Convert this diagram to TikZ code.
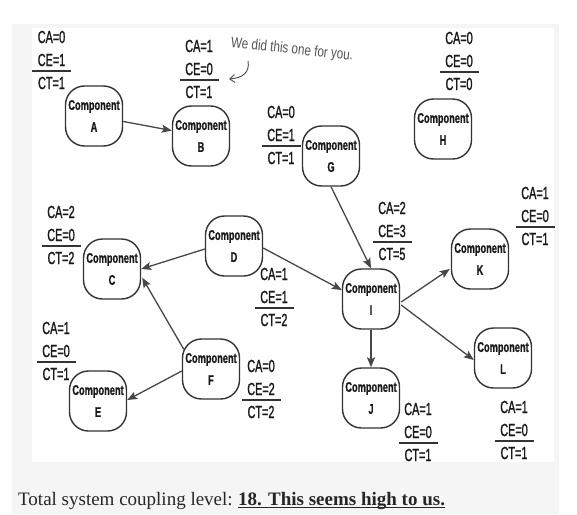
\documentclass[tikz,border=0pt]{standalone}
\usepackage{fontspec}
\setmainfont{Liberation Serif}
\newfontfamily\labfont[FakeStretch=0.62,FakeBold=1.2]{Liberation Sans}
\newfontfamily\compfont[FakeStretch=0.66,FakeBold=0.8]{Liberation Sans}
\newfontfamily\handfont[FakeStretch=0.78]{Liberation Sans}
\usetikzlibrary{arrows.meta,calc}
\definecolor{ink}{HTML}{333333}
\definecolor{panel}{HTML}{F5F5F5}
\definecolor{note}{HTML}{555555}
\tikzset{
  comp/.style={draw=ink, line width=1.4pt, rounded corners=19pt, minimum width=57pt,
    minimum height=60pt, inner sep=1pt, align=center, text=black!90,
    font=\compfont\bfseries\fontsize{14}{22}\selectfont},
  lab/.style={inner sep=0pt, text=black!90, font=\labfont\fontsize{17.5}{18}\selectfont},
  rulebox/.style={fill=ink, draw=none, minimum width=39pt, minimum height=1.6pt, inner sep=0pt},
  link/.style={draw=ink!90, line width=1.3pt, -{Stealth[length=10pt,width=8pt,inset=2pt]}},
}
\newcommand\metric[5]{%
  \coordinate (#1) at #2;
  \node[rulebox] (#1-rule) at (#1) {};
  \node[lab] (#1-ca) at ($(#1)+(0,-34)$) {CA=#3};
  \node[lab] (#1-ce) at ($(#1)+(0,-11)$) {CE=#4};
  \node[lab] (#1-ct) at ($(#1)+(0,12)$) {CT=#5};
}
\begin{document}
\begin{tikzpicture}[x=1pt,y=-1pt]
  \useasboundingbox (0,0) rectangle (577,514);
  \fill[white] (0,0) rectangle (577,514);
  \fill[panel] (12,24) rectangle (559,514);
  \fill[white] (32,28) rectangle (554,462);

  % components
  \node[comp] (A) at (94,116) {Component\\A};
  \node[comp] (B) at (201,136) {Component\\B};
  \node[comp] (G) at (331,156) {Component\\G};
  \node[comp] (H) at (443,129) {Component\\H};
  \node[comp] (C) at (112,269) {Component\\C};
  \node[comp] (D) at (234,246) {Component\\D};
  \node[comp] (I) at (371,299) {Component\\I};
  \node[comp] (K) at (480,259) {Component\\K};
  \node[comp] (L) at (503,358) {Component\\L};
  \node[comp] (J) at (371,398) {Component\\J};
  \node[comp] (F) at (211,369) {Component\\F};
  \node[comp] (E) at (98,401) {Component\\E};

  % connectors
  \draw[link] (A) -- (B);
  \draw[link] (G.south) -- (I.north);
  \draw[link] ($(D.west)+(0,3)$) -- (C.east);
  \draw[link] ($(D.east)+(0,2)$) -- ($(I.west)+(0,-9)$);
  \draw[link] ($(F.north west)+(2,11)$) -- ($(C.south east)+(1,-22)$);
  \draw[link] ($(F.west)+(0,2)$) -- ($(E.east)+(0,-1)$);
  \draw[link] ($(I.east)+(1,3)$) -- ($(K.west)+(-1,10)$);
  \draw[link] ($(I.east)+(1,6)$) -- ($(L.west)+(0,2)$);
  \draw[link] (I.south) -- (J.north);

  % metrics
  \metric{mA}{(51.5,71)}{0}{1}{1}
  \metric{mB}{(199,80)}{1}{0}{1}
  \metric{mG}{(281,146)}{0}{1}{1}
  \metric{mH}{(459,72)}{0}{0}{0}
  \metric{mC}{(61,246)}{2}{0}{2}
  \metric{mD}{(274,308)}{1}{1}{2}
  \metric{mI}{(392,242)}{2}{3}{5}
  \metric{mK}{(535,227)}{1}{0}{1}
  \metric{mE}{(56,362)}{1}{0}{1}
  \metric{mF}{(261,400)}{0}{2}{2}
  \metric{mJ}{(418,443)}{1}{0}{1}
  \metric{mL}{(514,441)}{1}{0}{1}

  % annotation
  \node[text=note, font=\handfont\fontsize{15}{16}\selectfont, rotate=-6, inner sep=0pt]
    (note) at (292,50) {We did this one for you.};
  \coordinate (hookS) at (248,61);
  \coordinate (hookE) at (229,79);
  \draw[note, line width=1pt, -{Straight Barb[length=5pt,width=8pt]}]
    (hookS) .. controls (250,72) and (243,78) .. (hookE);

  % caption
  \node[anchor=base west, inner sep=0pt, font=\fontsize{19}{22}\selectfont, text=black!85]
    (cap1) at (18,505) {Total system coupling level:};
  \node[anchor=base west, inner sep=0pt, font=\bfseries\fontsize{19}{22}\selectfont, text=black!85]
    (cap2) at ($(cap1.base east)+(5,0)$) {18. This seems high to us.};
  \draw[black!85, line width=1.3pt] ($(cap2.base west)+(0,2.5)$) -- ($(cap2.base east)+(0,2.5)$);
\end{tikzpicture}
\end{document}
